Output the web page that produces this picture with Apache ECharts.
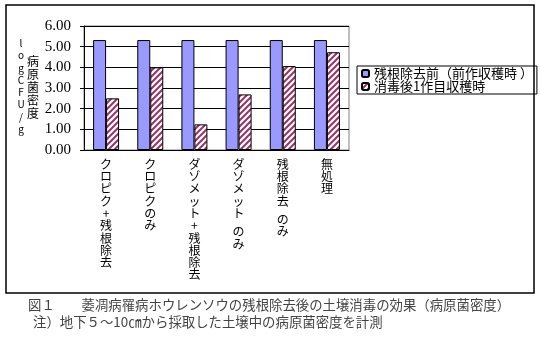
<!DOCTYPE html>
<html>
<head>
<meta charset="utf-8">
<script src="https://cdn.jsdelivr.net/npm/echarts@6/dist/echarts.min.js"></script>
<style>
  html, body { margin: 0; padding: 0; background: #fff; }
  #chart { width: 541px; height: 356px; }
</style>
</head>
<body>
<div id="chart"></div>
<script>
// カテゴリ（縦書き）
var categories = ['クロピク+残根除去', 'クロピクのみ', 'ダゾメット+残根除去', 'ダゾメット のみ', '残根除去 のみ', '無処理'];
var seriesNames = ['残根除去前（前作収穫時 ）', '消毒後1作目収穫時'];
var beforeVals = [5.32, 5.32, 5.32, 5.32, 5.32, 5.32]; // 残根除去前
var afterVals = [2.50, 4.00, 1.24, 2.69, 4.06, 4.73];  // 消毒後1作目
var yTicks = [0, 1, 2, 3, 4, 5, 6];
var captionLines = [
    '図１　　萎凋病罹病ホウレンソウの残根除去後の土壌消毒の効果（病原菌密度）',
    '注）地下５～10㎝から採取した土壌中の病原菌密度を計測'
];

//斜線パターン
function hatchPattern() {
    var c = document.createElement('canvas');
    c.width = 6; c.height = 6;
    var ctx = c.getContext('2d');
    ctx.fillStyle = '#ffffff';
    ctx.fillRect(0, 0, 6, 6);
    ctx.strokeStyle = '#993366';
    ctx.lineWidth = 2;
    ctx.beginPath();
    ctx.moveTo(-3, 3); ctx.lineTo(3, -3);
    ctx.moveTo(0, 6); ctx.lineTo(6, 0);
    ctx.moveTo(3, 9); ctx.lineTo(9, 3);
    ctx.stroke();
    return c;
}

//縦書きラベル
function vertical(s) {
    return s.split('').map(function(ch) {
        return ch === ' ' ? '{s| }' : ch;
    }).join('\n');
}

var myChart = echarts.init(document.getElementById('chart'));
var option = {
    backgroundColor: '#fff',
    animation: false,
    grid: {
        left: 84, top: 26, right: 192, bottom: 206,
        show: true,
        backgroundColor: '#fff',
        borderColor: '#808080',
        borderWidth: 1
    },
    legend: {
        orient: 'vertical',
        left: 357, top: 66,
        itemWidth: 7, itemHeight: 7,
        itemGap: 0,
        padding: [1, 4, 1, 4],
        borderColor: '#000', borderWidth: 1,
        backgroundColor: '#fff',
        textStyle: { fontFamily: 'Noto Sans CJK JP', fontSize: 13, lineHeight: 12.5, color: '#000' },
        data: seriesNames
    },
    xAxis: {
        type: 'category',
        data: categories,
        axisLine: { lineStyle: { color: '#000', width: 1 } },
        axisTick: { length: 4, lineStyle: { color: '#000' } },
        axisLabel: {
            interval: 0,
            margin: 8,
            fontFamily: 'Noto Sans CJK JP',
            fontSize: 12,
            lineHeight: 12.3,
            color: '#000',
            verticalAlign: 'top',
            formatter: vertical,
            rich: { s: { lineHeight: 6, fontSize: 6 } }
        }
    },
    yAxis: {
        type: 'value',
        min: yTicks[0], max: yTicks[yTicks.length - 1], interval: 1,
        axisLine: { show: true, lineStyle: { color: '#000' } },
        axisTick: { show: true, length: 4, lineStyle: { color: '#000' } },
        axisLabel: {
            margin: 13,
            fontFamily: 'Liberation Serif',
            fontSize: 15,
            color: '#000',
            formatter: function(v) { return v.toFixed(2); }
        },
        splitLine: { lineStyle: { color: '#000', width: 1 } }
    },
    series: [{
        name: seriesNames[0],
        type: 'bar',
        barWidth: 13,
        barGap: '0%',
        itemStyle: { color: '#9999ff', borderColor: '#000', borderWidth: 1 },
        data: beforeVals
    }, {
        name: seriesNames[1],
        type: 'bar',
        barWidth: 13,
        itemStyle: { color: { image: hatchPattern(), repeat: 'repeat' }, borderColor: '#000', borderWidth: 1 },
        data: afterVals
    }],
    graphic: [{
        type: 'rect',
        shape: { x: 6, y: 5, width: 528, height: 288 },
        style: { fill: 'none', stroke: '#000', lineWidth: 1.5 },
        z: 100
    }, {
        type: 'text',
        x: 21, y: 37,
        style: {
            text: 'l\no\ng\nC\nF\nU\n/\ng',
            fontFamily: 'Noto Sans CJK JP', fontSize: 10, lineHeight: 12.3,
            align: 'center', fill: '#000'
        }
    }, {
        type: 'text',
        x: 33, y: 55,
        style: {
            text: '病\n原\n菌\n密\n度',
            fontFamily: 'Noto Sans CJK JP', fontSize: 12, lineHeight: 13,
            align: 'center', fill: '#000'
        }
    }, {
        type: 'text',
        x: 28, y: 298,
        style: {
            text: captionLines[0],
            fontFamily: 'Noto Sans CJK JP', fontSize: 13.4, fill: '#444'
        }
    }, {
        type: 'text',
        x: 33, y: 315,
        style: {
            text: captionLines[1],
            fontFamily: 'Noto Sans CJK JP', fontSize: 13.4, fill: '#444'
        }
    }]
};
myChart.setOption(option);
</script>
</body>
</html>
